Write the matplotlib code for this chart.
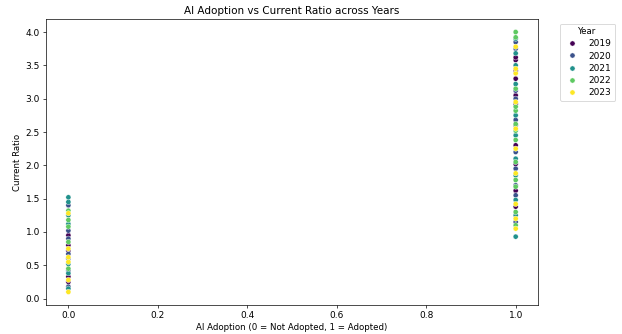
import matplotlib
matplotlib.use("Agg")
import matplotlib.pyplot as plt
import seaborn as sns
import pandas as pd

years = [2019, 2020, 2021, 2022, 2023]

# current ratio values, per year and adoption group
not_adopted = {
    2019: [0.25, 0.33, 0.72, 0.80, 0.95],
    2020: [0.18, 0.42, 0.60, 0.67, 0.90, 1.02, 1.40],
    2021: [0.15, 0.38, 0.52, 1.12, 1.25, 1.45, 1.52],
    2022: [0.45, 0.85, 1.08, 1.18, 1.32],
    2023: [0.10, 0.28, 0.55, 0.62, 0.75, 1.28],
}
adopted = {
    2019: [1.38, 1.62, 2.02, 2.30, 2.92, 3.05, 3.30, 3.42, 3.58, 3.62],
    2020: [1.15, 1.55, 1.70, 1.95, 2.20, 2.60, 2.68, 3.00, 3.12, 3.75, 3.85],
    2021: [0.93, 1.25, 1.48, 1.85, 2.10, 2.45, 2.75, 3.22, 3.50, 3.68, 3.90],
    2022: [1.10, 1.30, 1.68, 1.78, 2.05, 2.38, 2.52, 2.62, 2.82, 2.88, 3.15, 3.92, 4.00],
    2023: [1.05, 1.20, 1.42, 1.88, 2.25, 2.55, 2.95, 3.38, 3.45, 3.78],
}

rows = []
for y in years:
    for v in not_adopted[y]:
        rows.append((0, v, y))
    for v in adopted[y]:
        rows.append((1, v, y))
df = pd.DataFrame(rows, columns=["AI_Adoption", "Current_Ratio", "Year"])

fig = plt.figure(figsize=(10, 334 / 62.2), dpi=62.2)
ax = fig.add_axes([0.074, 0.087, 0.791, 0.856])
sns.scatterplot(data=df, x="AI_Adoption", y="Current_Ratio", hue="Year",
                palette="viridis", ax=ax)
ax.set_title("AI Adoption vs Current Ratio across Years", fontsize=12)
ax.set_xlabel("AI Adoption (0 = Not Adopted, 1 = Adopted)")
ax.set_ylabel("Current Ratio")
ax.tick_params(labelsize=10.5)
ax.legend(title="Year", bbox_to_anchor=(1.035, 1), loc="upper left",
          fontsize=10.5, labelspacing=0.35)

fig.savefig("out.png", dpi=62.2)
